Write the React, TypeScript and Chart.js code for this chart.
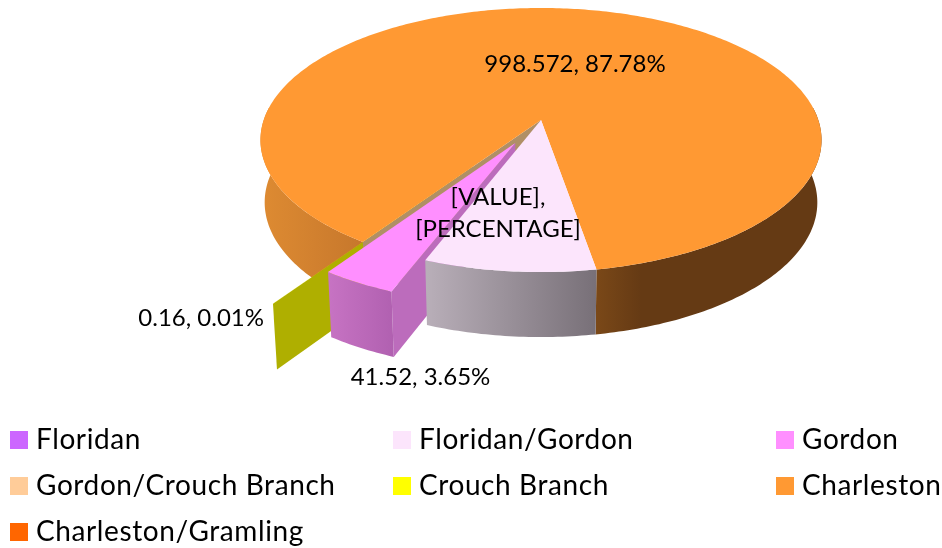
import { useEffect, useRef } from "react";
import { Chart, registerables } from "chart.js";

Chart.register(...registerables);

const categories = ["Floridan", "Floridan/Gordon", "Gordon", "Gordon/Crouch Branch", "Crouch Branch", "Charleston", "Charleston/Gramling"];
const values = [0, 97.35, 41.52, 0, 0.16, 998.572, 0];
const explode = [0, 0, 0.195, 0, 0.416, 0, 0];
const topColors = ["#CC66FF", "#FCE5FC", "#FF8FFF", "#FFCC99", "#FFFF00", "#FF9933", "#FF6600"];
const labelTexts = [
  { lines: ["998.572, 87.78%"], x: 575, y: 64, align: "center" },
  { lines: ["[VALUE],", "[PERCENTAGE]"], x: 498, y: 197, align: "center" },
  { lines: ["0.16, 0.01%"], x: 264, y: 318, align: "right" },
  { lines: ["41.52, 3.65%"], x: 420.5, y: 377, align: "center" },
];
const FONT = "Lato, 'Open Sans', sans-serif";
const CX = 541, CY = 120, RX = 277.3, RY = 129, K = 0.1515;

type Pt = [number, number];
function project(u: number, v: number, low: boolean): Pt {
  const w = 1 - K * v;
  let X = (RX * u) / w;
  let Y = (RY * v) / w;
  if (low) { X *= 0.985; Y = Y * 1.02 + 62; }
  return [CX + X, CY + Y];
}
function rimPts(a0: number, a1: number, e: number, mid: number, low: boolean): Pt[] {
  const n = Math.max(1, Math.ceil(Math.abs(a1 - a0) / 0.015));
  const out: Pt[] = [];
  const ox = Math.cos(mid) * e, oy = Math.sin(mid) * e;
  for (let i = 0; i <= n; i++) {
    const t = a0 + ((a1 - a0) * i) / n;
    out.push(project(ox + Math.cos(t), oy + Math.sin(t), low));
  }
  return out;
}
function fillPoly(ctx: CanvasRenderingContext2D, pts: Pt[], fill: any) {
  ctx.beginPath();
  pts.forEach((p, i) => (i ? ctx.lineTo(p[0], p[1]) : ctx.moveTo(p[0], p[1])));
  ctx.closePath();
  ctx.fillStyle = fill;
  ctx.fill();
}
function grad(ctx: CanvasRenderingContext2D, x0: number, x1: number, stops: [number, string][]) {
  const g = ctx.createLinearGradient(x0, 0, x1, 0);
  stops.forEach(([o, c]) => g.addColorStop(o, c));
  return g;
}

const pie3d = {
  id: "pie3d",
  beforeDatasetsDraw(chart: any) {
    const ctx: CanvasRenderingContext2D = chart.ctx;
    const arcs = chart.getDatasetMeta(0).data;
    const geo = (i: number) => {
      const a = arcs[i];
      const s = a.startAngle, e = a.endAngle;
      return { s, e, mid: (s + e) / 2, x: explode[i] };
    };
    const top = (i: number) => {
      const g = geo(i);
      const o = project(Math.cos(g.mid) * g.x, Math.sin(g.mid) * g.x, false);
      return [o, ...rimPts(g.s, g.e, g.x, g.mid, false)] as Pt[];
    };
    const radial = (g: any, ang: number): Pt[] => {
      const ox = Math.cos(g.mid) * g.x, oy = Math.sin(g.mid) * g.x;
      const ex = ox + Math.cos(ang), ey = oy + Math.sin(ang);
      return [project(ox, oy, false), project(ex, ey, false), project(ex, ey, true), project(ox, oy, true)];
    };
    const outer = (g: any, a0 = g.s, a1 = g.e): Pt[] => [
      ...rimPts(a0, a1, g.x, g.mid, false),
      ...rimPts(a0, a1, g.x, g.mid, true).reverse(),
    ];

    const fg = geo(1), go = geo(2), cb = geo(4), ch = geo(5);

    // Charleston's outer wall (front part only), then the cut faces
    const chartWall = grad(ctx, 260, 821, [
      [0, "#DE8B32"], [0.187, "#C6772C"], [0.6, "#7A4818"], [0.68, "#653A14"], [1, "#653A14"],
    ]);
    fillPoly(ctx, outer(ch, ch.s, Math.PI + 0.1), chartWall);
    fillPoly(ctx, outer(ch, 2 * Math.PI - 0.1, ch.e), chartWall);
    fillPoly(ctx, radial(cb, cb.s), "#AFAF00");
    fillPoly(ctx, radial(ch, ch.s), "#B08F66");
    fillPoly(ctx, top(5), topColors[5]);
    fillPoly(ctx, top(4), topColors[4]);

    // Gordon
    fillPoly(ctx, radial(go, go.s), "#BC6CBC");
    fillPoly(ctx, outer(go), grad(ctx, 325, 395, [[0, "#C874C4"], [1, "#B060B0"]]));
    fillPoly(ctx, top(2), topColors[2]);

    // Floridan/Gordon
    fillPoly(ctx, outer(fg), grad(ctx, 428, 596, [[0, "#B8AEB8"], [1, "#787078"]]));
    fillPoly(ctx, top(1), topColors[1]);
    return false;
  },
  afterDraw(chart: any) {
    const ctx: CanvasRenderingContext2D = chart.ctx;
    ctx.save();
    ctx.fillStyle = "#000";
    ctx.textBaseline = "middle";
    ctx.font = `24px ${FONT}`;
    labelTexts.forEach((l) => {
      ctx.textAlign = l.align as CanvasTextAlign;
      l.lines.forEach((t, i) => ctx.fillText(t, l.x, l.y + i * 32));
    });
    ctx.textAlign = "left";
    ctx.font = `28px ${FONT}`;
    (ctx as any).letterSpacing = "0.6px";
    const colX = [10, 393, 776];
    const rowY = [440, 486, 532];
    chart.data.labels.forEach((t: string, i: number) => {
      const x = colX[i % 3], y = rowY[Math.floor(i / 3)];
      ctx.fillStyle = topColors[i];
      ctx.fillRect(x, y - 9, 18, 18);
      ctx.fillStyle = "#000";
      ctx.fillText(t, x + 26, y);
    });
    ctx.restore();
  },
};

export default function App() {
  const ref = useRef<HTMLCanvasElement>(null);
  useEffect(() => {
    const chart = new Chart(ref.current as HTMLCanvasElement, {
      type: "pie",
      data: { labels: categories, datasets: [{ data: values, backgroundColor: topColors, borderWidth: 0 }] },
      options: {
        responsive: false,
        animation: false,
        rotation: 170.2,
        plugins: { legend: { display: false }, tooltip: { enabled: false } },
      },
      plugins: [pie3d],
    } as any);
    return () => chart.destroy();
  }, []);
  return (
    <div style={{ position: "fixed", left: 0, top: 0, width: 942, height: 548, background: "#fff" }}>
      <canvas ref={ref} width={942} height={548} style={{ display: "block" }} />
    </div>
  );
}
